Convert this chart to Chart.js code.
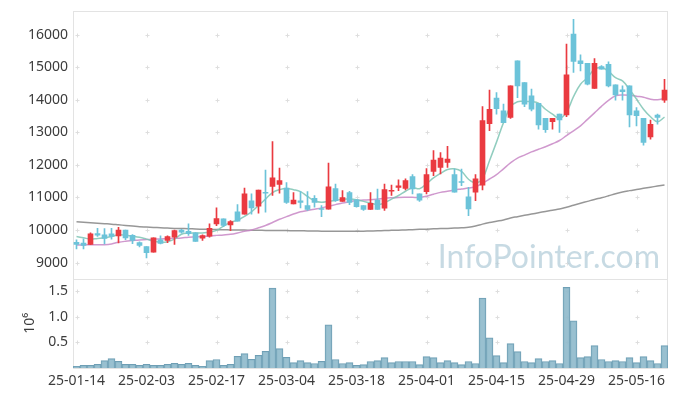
<!DOCTYPE html>
<html>
<head>
<meta charset="utf-8">
<script src="https://cdn.jsdelivr.net/npm/chart.js@4.4.1/dist/chart.umd.min.js"></script>
<style>
  html, body { margin: 0; padding: 0; background: #fff; }
</style>
</head>
<body>
<canvas id="stockChart" width="677" height="396"></canvas>
<script>
// trading days (yy-mm-dd)
const dates = [
  '25-01-14','25-01-15','25-01-16','25-01-17','25-01-20','25-01-21','25-01-22','25-01-23','25-01-24','25-01-31',
  '25-02-03','25-02-04','25-02-05','25-02-06','25-02-07','25-02-10','25-02-11','25-02-12','25-02-13','25-02-14',
  '25-02-17','25-02-18','25-02-19','25-02-20','25-02-21','25-02-24','25-02-25','25-02-26','25-02-27','25-02-28',
  '25-03-04','25-03-05','25-03-06','25-03-07','25-03-10','25-03-11','25-03-12','25-03-13','25-03-14','25-03-17',
  '25-03-18','25-03-19','25-03-20','25-03-21','25-03-24','25-03-25','25-03-26','25-03-27','25-03-28','25-03-31',
  '25-04-01','25-04-02','25-04-03','25-04-04','25-04-07','25-04-08','25-04-09','25-04-10','25-04-11','25-04-14',
  '25-04-15','25-04-16','25-04-17','25-04-18','25-04-21','25-04-22','25-04-23','25-04-24','25-04-25','25-04-28',
  '25-04-29','25-04-30','25-05-02','25-05-07','25-05-08','25-05-09','25-05-12','25-05-13','25-05-14','25-05-15',
  '25-05-16','25-05-19','25-05-20','25-05-21','25-05-22'
];

const openPrices = [
  9620, 9600, 9560, 9890, 9850, 9880, 9820, 10000, 9840, 9610,
  9490, 9320, 9700, 9680, 9780, 10000, 9960, 9910, 9750, 9810,
  10190, 10340, 10160, 10560, 10490, 10900, 10730, 11150, 11340, 11400,
  11290, 10800, 10900, 10750, 10970, 10650, 10640, 11270, 10880, 11150,
  10930, 10750, 10630, 10920, 10670, 11190, 11310, 11280, 11640, 11110,
  11180, 11800, 11920, 12080, 11700, 11480, 11020, 11160, 11380, 13270,
  14050, 13660, 13460, 15200, 14530, 14120, 13890, 13430, 13330, 13560,
  13540, 16020, 15200, 15120, 14350, 15020, 15090, 14460, 14310, 14430,
  13660, 13430, 12860, 13530, 13990
];
const highPrices = [
  9700, 9730, 9910, 10050, 10040, 10050, 10080, 10000, 9860, 9640,
  9490, 9760, 9820, 9820, 10000, 10020, 10190, 9920, 9850, 10190,
  10680, 10340, 10290, 10780, 11290, 11110, 11230, 11840, 12720, 11900,
  11460, 11150, 11180, 11180, 11060, 10750, 12060, 11410, 11210, 11190,
  10930, 10750, 11150, 11260, 11410, 11380, 11540, 11570, 11700, 11110,
  11890, 12440, 12380, 12570, 11870, 11870, 11310, 11700, 13790, 14300,
  14220, 13870, 14430, 15200, 14530, 14330, 13890, 13430, 13430, 13560,
  15710, 16470, 15380, 15120, 15270, 15050, 15170, 14460, 14430, 14430,
  13760, 13430, 13380, 13560, 14630
];
const lowPrices = [
  9420, 9420, 9550, 9800, 9570, 9720, 9600, 9700, 9580, 9480,
  9140, 9320, 9570, 9610, 9560, 9900, 9830, 9650, 9680, 9780,
  10130, 10100, 9980, 10270, 10490, 10490, 10520, 10550, 11060, 11130,
  10820, 10800, 10680, 10600, 10700, 10410, 10640, 10880, 10880, 10780,
  10700, 10600, 10630, 10630, 10600, 11060, 11210, 11230, 11110, 10880,
  11110, 11670, 11720, 11920, 11160, 11360, 10440, 10900, 11230, 13050,
  13560, 13300, 13430, 14070, 13790, 13660, 13100, 13000, 13100, 13000,
  13480, 14840, 14890, 14460, 14350, 14940, 14400, 13990, 13990, 13170,
  13200, 12610, 12790, 13250, 13920
];
const closePrices = [
  9560, 9530, 9880, 9840, 9740, 9800, 10000, 9760, 9680, 9530,
  9300, 9760, 9590, 9800, 9980, 9930, 9890, 9650, 9830, 10050,
  10350, 10140, 10260, 10270, 11110, 10680, 11230, 11130, 11600, 11520,
  10850, 10920, 10850, 10630, 10850, 10630, 11330, 10900, 11000, 10850,
  10720, 10630, 10820, 10630, 11240, 11220, 11360, 11520, 11260, 10920,
  11700, 12150, 12210, 12180, 11160, 11460, 10650, 11570, 13360, 13710,
  13730, 13300, 14430, 14430, 13870, 13710, 13230, 13080, 13430, 13380,
  14770, 15180, 15110, 14480, 15120, 14940, 14430, 14150, 14250, 13540,
  13510, 12690, 13250, 13460, 14300
];

// moving averages as drawn
const ma5 = [
  9800, 9760, 9720, 9740, 9760, 9800, 9855, 9840, 9810, 9775,
  9720, 9660, 9625, 9640, 9720, 9870, 9900, 9905, 9910, 9930,
  9990, 10120, 10240, 10300, 10420, 10560, 10750, 10950, 11150, 11240,
  11275, 11240, 11180, 11030, 10900, 10850, 10880, 10910, 10945, 10950,
  10930, 10880, 10830, 10780, 10830, 10950, 11060, 11190, 11300, 11270,
  11420, 11600, 11740, 11860, 11880, 11800, 11560, 11450, 11580, 12130,
  12700, 13300, 13780, 13940, 13950, 13945, 13900, 13710, 13560, 13430,
  13620, 14100, 14480, 14680, 14940, 14990, 14880, 14680, 14580, 14320,
  14020, 13710, 13480, 13330, 13470
];
const ma20 = [
  9543, 9543, 9545, 9548, 9550, 9573, 9623, 9654, 9675, 9695,
  9705, 9715, 9726, 9736, 9746, 9757, 9777, 9787, 9797, 9818,
  9835, 9850, 9870, 9910, 9960, 10000, 10070, 10140, 10230, 10330,
  10410, 10490, 10560, 10600, 10640, 10680, 10730, 10780, 10830, 10870,
  10910, 10920, 10930, 10950, 10975, 10990, 11000, 11003, 11003, 11003,
  11040, 11100, 11156, 11190, 11230, 11260, 11290, 11330, 11440, 11567,
  11700, 11880, 12060, 12211, 12300, 12400, 12480, 12560, 12650, 12750,
  12900, 13048, 13200, 13400, 13600, 13800, 13980, 14120, 14150, 14143,
  14110, 14080, 14020, 14000, 14040
];
const ma120 = [
  10257, 10240, 10225, 10210, 10195, 10180, 10160, 10140, 10120, 10100,
  10090, 10080, 10070, 10060, 10050, 10045, 10040, 10030, 10025, 10020,
  10012, 10008, 10004, 10000, 9997, 9994, 9991, 9988, 9985, 9983,
  9981, 9978, 9975, 9972, 9968, 9965, 9962, 9960, 9960, 9960,
  9962, 9965, 9970, 9975, 9985, 9990, 9995, 10003, 10010, 10020,
  10025, 10035, 10043, 10050, 10060, 10070, 10083, 10120, 10180, 10230,
  10270, 10310, 10370, 10410, 10450, 10490, 10530, 10570, 10610, 10645,
  10700, 10760, 10820, 10880, 10940, 10990, 11050, 11115, 11170, 11210,
  11245, 11280, 11315, 11350, 11383
];

const volumes = [
  35000, 54000, 54000, 74000, 145000, 184000, 132000, 74000, 74000, 54000,
  74000, 54000, 54000, 74000, 93000, 74000, 93000, 54000, 35000, 145000,
  165000, 54000, 74000, 229000, 281000, 171000, 248000, 326000, 1560000, 378000,
  209000, 106000, 145000, 106000, 87000, 132000, 843000, 165000, 87000, 106000,
  54000, 67000, 126000, 145000, 203000, 106000, 126000, 126000, 126000, 67000,
  222000, 203000, 106000, 145000, 106000, 67000, 126000, 87000, 1366000, 591000,
  242000, 106000, 475000, 320000, 126000, 106000, 184000, 126000, 145000, 87000,
  1572000, 920000, 203000, 222000, 436000, 165000, 126000, 145000, 126000, 203000,
  106000, 222000, 145000, 87000, 436000
];

const priceTicks = [9000, 10000, 11000, 12000, 13000, 14000, 15000, 16000];
const volumeTicks = [500000, 1000000, 1500000];

const UP = '#ea3a40';
const DOWN = '#6cc3d9';
const candleColors = closePrices.map((c, i) => c >= openPrices[i] ? UP : DOWN);

const tickFont = { family: 'Noto Sans', size: 14 };

// light "+" marks at grid crossings, panel frames and the watermark
const decorPlugin = {
  id: 'decor',
  beforeDatasetsDraw(chart) {
    const { ctx, chartArea, scales } = chart;
    const x = scales.x;
    ctx.save();
    ctx.strokeStyle = '#e3e3e3';
    ctx.lineWidth = 1;
    [scales.y, scales.yv].forEach(s => {
      ctx.strokeRect(chartArea.left + 0.5, Math.round(s.top) + 0.5,
        chartArea.right - chartArea.left - 1, Math.round(s.bottom - s.top));
    });
    ctx.strokeStyle = '#dedede';
    const xs = dates.map((d, i) => i).filter(i => i % 10 === 0).map(i => Math.round(x.getPixelForValue(i)) + 0.5);
    const marks = [[scales.y, priceTicks], [scales.yv, volumeTicks]];
    marks.forEach(([s, ticks]) => {
      ticks.forEach(v => {
        const py = Math.round(s.getPixelForValue(v)) + 0.5;
        xs.forEach(px => {
          ctx.beginPath();
          ctx.moveTo(px - 2, py); ctx.lineTo(px + 2, py);
          ctx.moveTo(px, py - 2); ctx.lineTo(px, py + 2);
          ctx.stroke();
        });
      });
    });
    ctx.font = '32px Lato';
    ctx.fillStyle = 'rgba(180, 205, 218, 0.75)';
    ctx.textAlign = 'right';
    ctx.textBaseline = 'alphabetic';
    ctx.fillText('InfoPointer.com', 660, 268);
    ctx.restore();
  }
};

// keep both price and volume axes 73px wide without extra label padding
const fitLeftAxis = s => {
  s.width = 73;
  s.paddingTop = 0;
  s.paddingBottom = 0;
};

const ctx = document.getElementById('stockChart');
new Chart(ctx, {
  data: {
    labels: dates,
    datasets: [
      {
        type: 'bar', label: 'body', yAxisID: 'y', order: 1,
        data: openPrices.map((o, i) => [o, closePrices[i]]),
        backgroundColor: candleColors, borderWidth: 0,
        barThickness: 5, minBarLength: 1, grouped: false
      },
      {
        type: 'bar', label: 'wick', yAxisID: 'y', order: 2,
        data: lowPrices.map((l, i) => [l, highPrices[i]]),
        backgroundColor: candleColors, borderWidth: 0,
        barThickness: 1, grouped: false
      },
      {
        type: 'line', label: 'MA5', yAxisID: 'y', order: 3, data: ma5,
        borderColor: 'rgba(126, 196, 180, 0.85)', borderWidth: 1.5,
        pointRadius: 0, tension: 0.4
      },
      {
        type: 'line', label: 'MA20', yAxisID: 'y', order: 4, data: ma20,
        borderColor: 'rgba(200, 135, 198, 0.85)', borderWidth: 1.5,
        pointRadius: 0, tension: 0.4
      },
      {
        type: 'line', label: 'MA120', yAxisID: 'y', order: 5, data: ma120,
        borderColor: 'rgba(140, 140, 140, 0.9)', borderWidth: 1.5,
        pointRadius: 0, tension: 0.4
      },
      {
        type: 'bar', label: 'volume', yAxisID: 'yv', order: 6, data: volumes,
        backgroundColor: 'rgba(142, 185, 203, 0.9)', borderColor: '#6f9fb5',
        borderWidth: 1, barPercentage: 1, categoryPercentage: 1, grouped: false
      }
    ]
  },
  options: {
    responsive: false,
    animation: false,
    layout: { padding: { top: 11.3, right: 9, left: 0, bottom: 0 } },
    plugins: { legend: { display: false }, tooltip: { enabled: false } },
    scales: {
      x: {
        type: 'category',
        grid: { display: false, drawTicks: false },
        border: { display: false },
        ticks: {
          autoSkip: false, maxRotation: 0, padding: 5,
          font: tickFont, color: '#3c3c3c',
          callback: (v, i) => i % 10 === 0 ? dates[i] : null
        },
        afterFit: s => { s.height = 28; }
      },
      yv: {
        type: 'linear', position: 'left', stack: 'panels', stackWeight: 1,
        min: 0, max: 1740000,
        grid: { display: false, drawTicks: false },
        border: { display: false },
        title: { display: true, text: '10⁶', font: tickFont, color: '#3c3c3c', padding: { top: 22, bottom: 0 } },
        ticks: {
          padding: 5, font: tickFont, color: '#3c3c3c',
          callback: v => (v / 1000000).toFixed(1)
        },
        afterBuildTicks: s => { s.ticks = volumeTicks.map(v => ({ value: v })); },
        afterFit: fitLeftAxis
      },
      y: {
        type: 'linear', position: 'left', stack: 'panels', stackWeight: 3,
        min: 8500, max: 16720,
        grid: { display: false, drawTicks: false },
        border: { display: false },
        ticks: { padding: 5, font: tickFont, color: '#3c3c3c', callback: v => String(v) },
        afterBuildTicks: s => { s.ticks = priceTicks.map(v => ({ value: v })); },
        afterFit: fitLeftAxis
      }
    }
  },
  plugins: [decorPlugin]
});
</script>
</body>
</html>
